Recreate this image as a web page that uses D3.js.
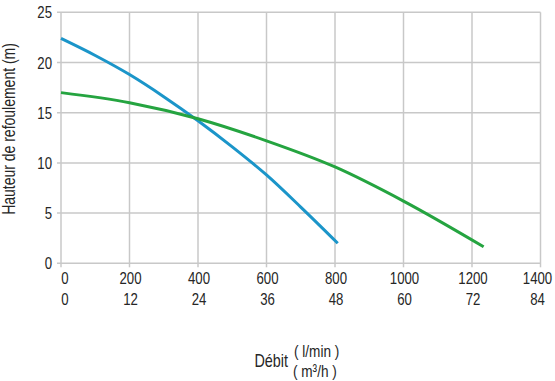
<!DOCTYPE html>
<html><head><meta charset="utf-8">
<script src="https://cdn.jsdelivr.net/npm/d3@7"></script>
<style>
body{margin:0;background:#fff;}
text{font-family:"Liberation Sans",Arial,sans-serif;fill:#262626;}
</style></head>
<body><svg id="c" width="555" height="381"></svg>
<script>
const xTicks = [0,200,400,600,800,1000,1200,1400];
const xTicks2 = ["0","12","24","36","48","60","72","84"];
const yTicks = [0,5,10,15,20,25];
const blueX = [0,100,200,300,400,500,600,700,808];
const blueY = [22.4,20.7,18.8,16.6,14.2,11.6,8.8,5.6,2.0];
const greenX = [0,200,400,600,800,1000,1234];
const greenY = [17.0,16.0,14.4,12.2,9.6,6.2,1.65];

const svg = d3.select("#c");
const x = d3.scaleLinear().domain([0,1400]).range([61,540.5]);
const y = d3.scaleLinear().domain([0,25]).range([263.3,12.3]);
const grid = "#c8c8c8";
const SX = 0.8; // condensed look

function label(g, tx, ty, txt, size, anchor, rot){
  g.append("text")
    .attr("transform",`translate(${tx},${ty})${rot?` rotate(${rot})`:""} scale(${SX},1)`)
    .attr("text-anchor",anchor).attr("font-size",size).text(txt);
}

// grid
svg.append("g").selectAll("line").data(xTicks).join("line")
  .attr("x1",d=>x(d)).attr("x2",d=>x(d)).attr("y1",y(0)+4).attr("y2",y(25))
  .attr("stroke",grid).attr("stroke-width",1.5);
svg.append("g").selectAll("line").data(yTicks).join("line")
  .attr("x1",x(0)-4).attr("x2",x(1400)).attr("y1",d=>y(d)).attr("y2",d=>y(d))
  .attr("stroke",grid).attr("stroke-width",1.5);

const g = svg.append("g");
yTicks.forEach(d=>label(g, x(0)-9, y(d)+6, String(d), 16.5, "end"));
const off = i => i===0 ? 4 : (i===xTicks.length-1 ? -3 : 1);
xTicks.forEach((d,i)=>{
  label(g, x(d)+off(i), 284, String(d), 16.5, "middle");
  label(g, x(d)+off(i), 305, xTicks2[i], 16.5, "middle");
});

label(g, 15, 129, "Hauteur de refoulement (m)", 17.5, "middle", -90);
label(g, 288, 367, "Débit", 18, "end");
label(g, 294, 357, "( l/min )", 17, "start");
label(g, 293, 377, "( m³/h )", 17, "start");

const line = d3.line().x(d=>x(d[0])).y(d=>y(d[1])).curve(d3.curveMonotoneX);
svg.append("path").datum(blueX.map((v,i)=>[v,blueY[i]])).attr("d",line)
  .attr("fill","none").attr("stroke","#1b95c9").attr("stroke-width",3);
svg.append("path").datum(greenX.map((v,i)=>[v,greenY[i]])).attr("d",line)
  .attr("fill","none").attr("stroke","#25a440").attr("stroke-width",3);
</script></body></html>
